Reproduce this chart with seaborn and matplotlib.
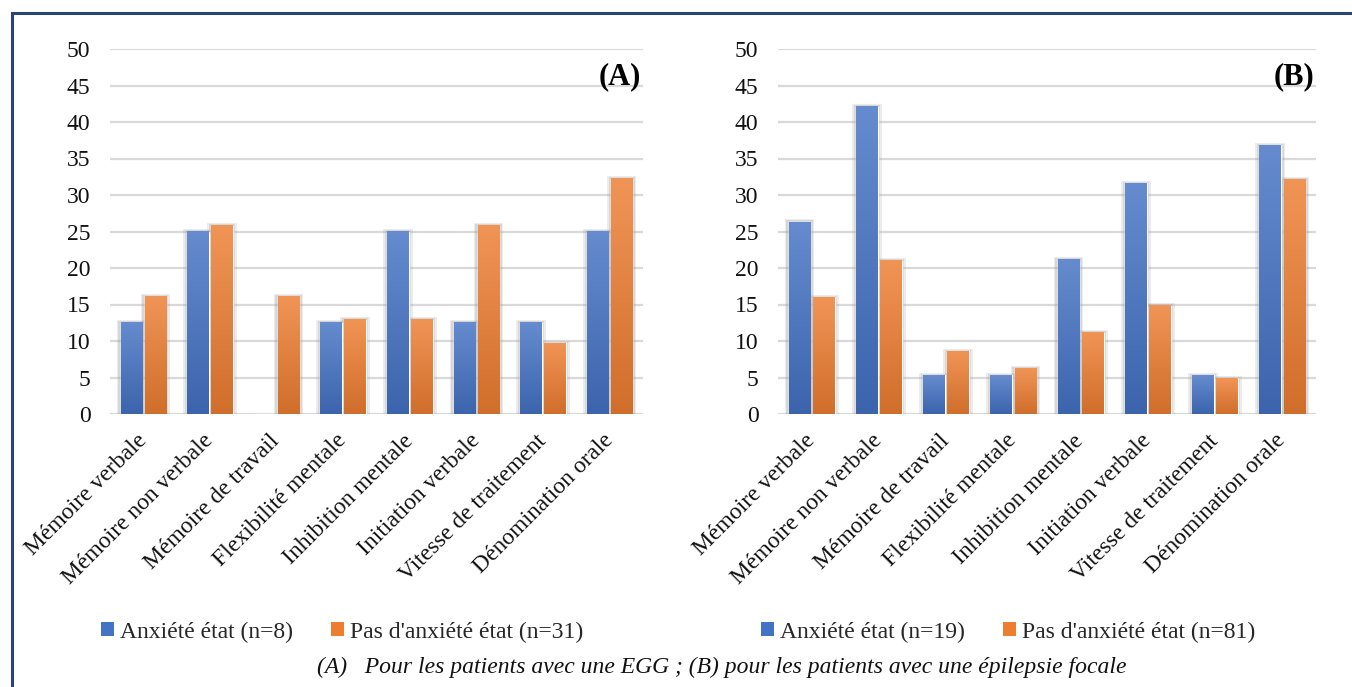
import numpy as np
import pandas as pd
import matplotlib
matplotlib.use("Agg")
import matplotlib.pyplot as plt
from matplotlib.patches import Rectangle
from matplotlib.colors import to_rgb
import seaborn as sns

# Cognitive domains tested
domains = [
    "Mémoire verbale", "Mémoire non verbale", "Mémoire de travail",
    "Flexibilité mentale", "Inhibition mentale", "Initiation verbale",
    "Vitesse de traitement", "Dénomination orale",
]

# (A) generalised epilepsy (EGG): % of patients with impairment
egg_anx = [12.5, 25.0, 0.0, 12.5, 25.0, 12.5, 12.5, 25.0]
egg_no_anx = [16.1, 25.8, 16.1, 12.9, 12.9, 25.8, 9.7, 32.3]
egg_groups = ["Anxiété état (n=8)", "Pas d'anxiété état (n=31)"]

# (B) focal epilepsy
focal_anx = [26.3, 42.1, 5.3, 5.3, 21.1, 31.6, 5.3, 36.8]
focal_no_anx = [16.0, 21.0, 8.6, 6.2, 11.1, 14.8, 4.9, 32.1]
focal_groups = ["Anxiété état (n=19)", "Pas d'anxiété état (n=81)"]

panel_tags = ["(A)", "(B)"]
caption = ("(A)   Pour les patients avec une EGG ; "
           "(B) pour les patients avec une épilepsie focale")

BLUE = "#4472C4"
ORANGE = "#ED7D31"

sns.set_theme(style="white")
plt.rcParams["font.family"] = ["Liberation Serif", "DejaVu Serif"]

W, H = 1352, 687
fig = plt.figure(figsize=(W / 100, H / 100), dpi=100)


def frac_x(px):
    return px / W


def frac_y(py):
    return 1 - py / H


def shade(rgb, f):
    """Blend a colour toward white (f>0) or black (f<0)."""
    rgb = np.array(rgb)
    if f >= 0:
        return rgb + (1 - rgb) * f
    return rgb * (1 + f)


def draw_panel(ax, anx, no_anx, groups, tag):
    df = pd.DataFrame({
        "domaine": domains * 2,
        "valeur": list(anx) + list(no_anx),
        "groupe": [groups[0]] * len(domains) + [groups[1]] * len(domains),
    })
    sns.barplot(data=df, x="domaine", y="valeur", hue="groupe",
                order=domains, hue_order=groups,
                palette=[BLUE, ORANGE], width=0.72, gap=0.1,
                saturation=1, legend=False, ax=ax, zorder=3)

    # soft shadow + vertical gradient on each bar
    for bar in list(ax.patches):
        x0, y0 = bar.get_x(), bar.get_y()
        w, h = bar.get_width(), bar.get_height()
        if h <= 0:
            continue
        base = to_rgb(bar.get_facecolor())
        for k, a in ((0.06, 0.18), (0.035, 0.25)):
            ax.add_patch(Rectangle((x0 - k, y0), w + 2 * k, h + k * 6,
                                   facecolor="#9a9a9a", alpha=a,
                                   edgecolor="none", zorder=2))
        t = np.linspace(0, 1, 128)[:, None]
        top = shade(base, 0.18)
        bot = shade(base, -0.12)
        col = top[None, :] * (1 - t) + bot[None, :] * t
        img = np.repeat(col[:, None, :], 2, axis=1)
        ax.imshow(img, extent=[x0, x0 + w, y0, y0 + h], aspect="auto",
                  origin="upper", zorder=4, interpolation="bilinear")

    ax.set_xlim(-0.5, len(domains) - 0.5)
    ax.set_ylim(0, 50)
    ax.set_yticks(np.arange(0, 51, 5))
    ax.yaxis.grid(True, color="#d9d9d9", linewidth=1.6, zorder=0)
    ax.set_axisbelow(True)
    for s in ax.spines.values():
        s.set_visible(False)
    ax.set_xlabel("")
    ax.set_ylabel("")
    ax.tick_params(axis="y", labelsize=17, pad=14, length=0,
                   labelcolor="#111111")
    ax.tick_params(axis="x", labelsize=17, pad=17, length=0,
                   labelcolor="#111111")
    ax.set_xticks(range(len(domains)))
    ax.set_xticklabels(domains, rotation=45, ha="right",
                       rotation_mode="anchor", va="center")
    ax.text(0.997, 0.965, tag, transform=ax.transAxes, ha="right",
            va="top", fontsize=22, fontweight="bold", color="black")


axA = fig.add_axes([frac_x(110), frac_y(414), frac_x(643 - 110),
                    (414 - 49) / H])
axB = fig.add_axes([frac_x(778), frac_y(414), frac_x(1316 - 778),
                    (414 - 49) / H])

draw_panel(axA, egg_anx, egg_no_anx, egg_groups, panel_tags[0])
draw_panel(axB, focal_anx, focal_no_anx, focal_groups, panel_tags[1])

for cx, groups in ((342, egg_groups), (1008, focal_groups)):
    handles = [Rectangle((0, 0), 1, 1, facecolor=c, edgecolor="none")
               for c in (BLUE, ORANGE)]
    fig.legend(handles, groups, loc="center",
               bbox_to_anchor=(frac_x(cx), frac_y(632)), ncol=2,
               frameon=False, fontsize=17, handlelength=0.55,
               handleheight=0.55, handletextpad=0.25, columnspacing=1.6,
               borderpad=0, borderaxespad=0)

fig.text(frac_x(722), frac_y(667), caption, ha="center", va="center",
         fontsize=17, fontstyle="italic", color="#111111")

# outer frame
fig.add_artist(Rectangle((frac_x(11.5), -0.1), 1.2, frac_y(13) + 0.1,
                         transform=fig.transFigure, fill=False,
                         edgecolor="#2b4470", linewidth=2.2))

fig.savefig("out.png", dpi=100)
